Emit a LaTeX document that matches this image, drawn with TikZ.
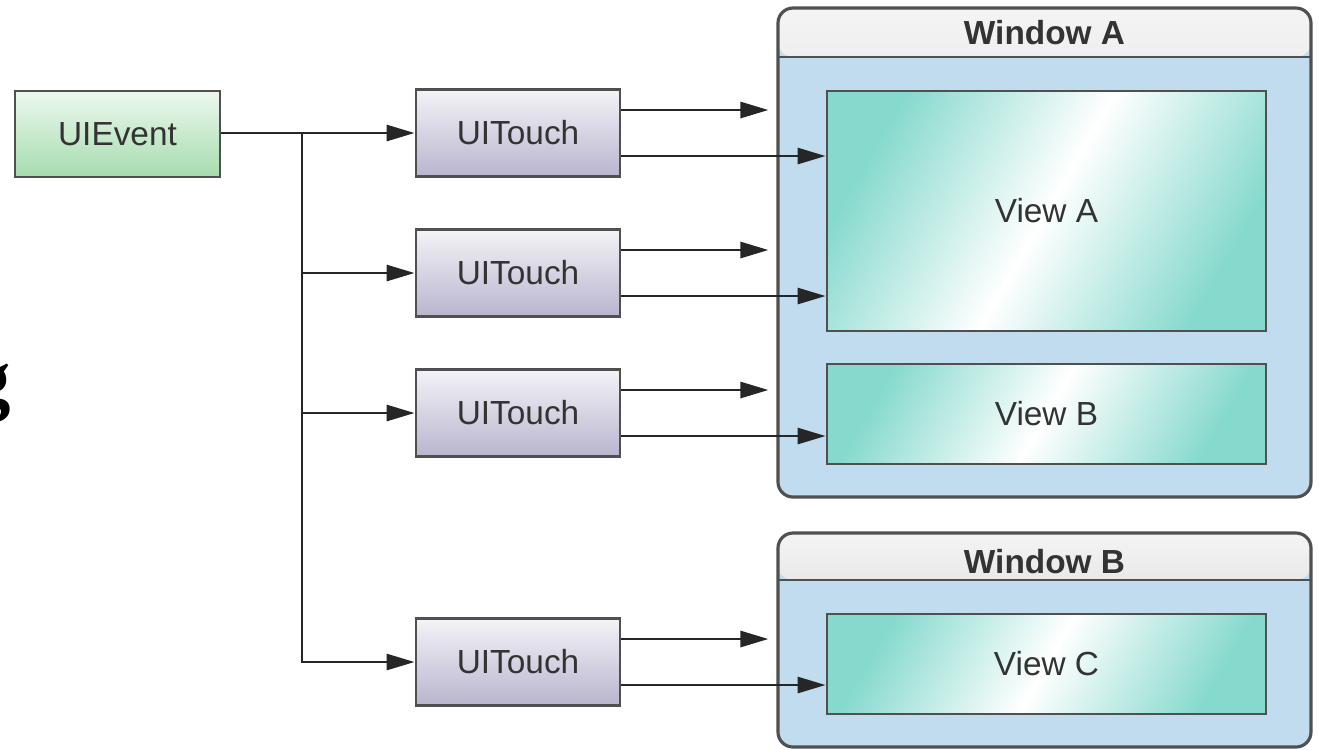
\documentclass[tikz,border=0pt]{standalone}
\usepackage{fontspec}
\setmainfont{Liberation Sans}
\newfontfamily\cutfont{Liberation Serif}
\usetikzlibrary{arrows.meta, positioning}
\definecolor{edgegray}{HTML}{505050}
\definecolor{txtgray}{HTML}{333333}
\definecolor{evtop}{HTML}{ECF8EE}
\definecolor{evbot}{HTML}{A6DCAE}
\definecolor{tchtop}{HTML}{F3F3F7}
\definecolor{tchbot}{HTML}{B8B5CE}
\definecolor{winblue}{HTML}{C0DCEE}
\definecolor{ttltop}{HTML}{F4F4F4}
\definecolor{ttlbot}{HTML}{C2C2C2}
\definecolor{viewteal}{HTML}{86D9CD}
\tikzset{
    evbox/.style={
        draw=edgegray,
        line width=0.8pt,
        top color=evtop,
        bottom color=evbot,
        minimum width=2.05cm,
        minimum height=0.86cm,
        text=txtgray
    },
    touchbox/.style={
        draw=edgegray,
        line width=0.8pt,
        top color=tchtop,
        bottom color=tchbot,
        minimum width=2.04cm,
        minimum height=0.87cm,
        text=txtgray
    },
    window/.style={
        draw=edgegray,
        line width=0.9pt,
        rounded corners=0.15cm,
        fill=winblue,
        minimum width=5.33cm,
        inner sep=0pt,
        path picture={
            \shade[top color=ttltop, bottom color=ttlbot]
                (path picture bounding box.north west) rectangle
                ([yshift=-#1]path picture bounding box.north east);
            \draw[edgegray, line width=0.8pt]
                ([yshift=-#1]path picture bounding box.north west) --
                ([yshift=-#1]path picture bounding box.north east);
        }
    },
    wintitle/.style={font=\bfseries\fontsize{9.5}{11}\selectfont, text=txtgray},
    viewbox/.style={
        draw=edgegray,
        line width=0.8pt,
        left color=viewteal,
        right color=viewteal,
        middle color=white,
        shading angle=60,
        minimum width=4.39cm,
        text=txtgray
    },
    line/.style={-{Triangle[length=2.8mm, width=1.6mm]}, line width=0.8pt, black!85},
    every node/.style={font=\fontsize{9.5}{11}\selectfont}
}

\begin{document}
\begin{tikzpicture}
\useasboundingbox (0,0) rectangle (13.19,-7.49);
\clip (0,0) rectangle (13.19,-7.49);

% cut-off glyph at the left margin
\node[font=\cutfont\bfseries\fontsize{23}{26}\selectfont, anchor=base east, inner sep=0pt] (cutg) at (0.12,-4.05) {g};

% event and touches
\node[evbox] (evt) at (1.175,-1.34) {UIEvent};
\node[touchbox] (t1) at (5.18,-1.33) {UITouch};
\node[touchbox] (t2) at (5.18,-2.73) {UITouch};
\node[touchbox] (t3) at (5.18,-4.13) {UITouch};
\node[touchbox] (t4) at (5.18,-6.62) {UITouch};

% windows
\node[window=0.49cm, minimum height=4.89cm] (wA) at (10.445,-2.525) {};
\node[wintitle] (wAt) at (10.445,-0.33) {Window A};
\node[window=0.47cm, minimum height=2.14cm] (wB) at (10.445,-6.40) {};
\node[wintitle] (wBt) at (10.445,-5.62) {Window B};

% views
\node[viewbox, minimum height=2.40cm] (vA) at (10.465,-2.11) {View A};
\node[viewbox, minimum height=1.00cm] (vB) at (10.465,-4.14) {View B};
\node[viewbox, minimum height=1.00cm] (vC) at (10.465,-6.64) {View C};

% event fan-out
\coordinate (trunk) at (3.02,-1.33);
\draw[line] (evt.east |- t1.west) -- (t1);
\foreach \t in {t2,t3,t4}
    \draw[line] (trunk) |- (\t);

% touches to windows and views
\foreach \t/\w/\v in {t1/wA/vA, t2/wA/vA, t3/wA/vB, t4/wB/vC} {
    \draw[line, shorten >=0.8mm] ([yshift=2.3mm]\t.east) -- ([yshift=2.3mm]\t.east -| \w.west);
    \draw[line] ([yshift=-2.3mm]\t.east) -- ([yshift=-2.3mm]\t.east -| \v.west);
}
\end{tikzpicture}
\end{document}
